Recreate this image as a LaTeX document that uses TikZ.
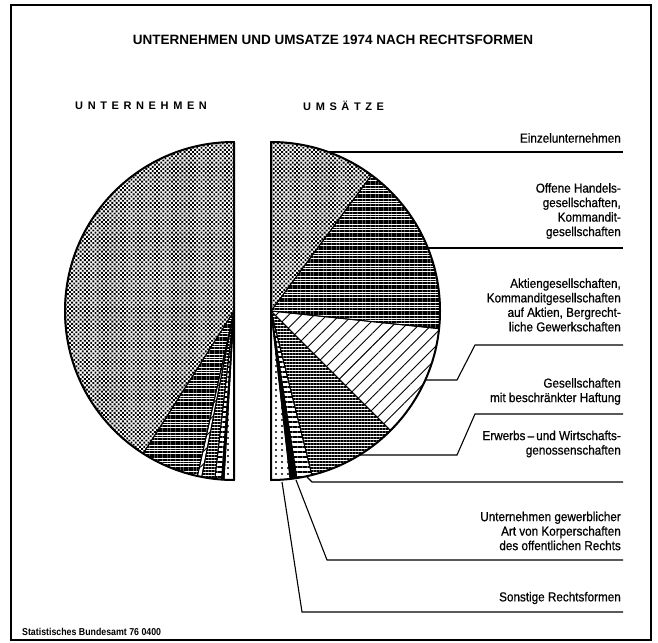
\documentclass[tikz,border=0pt]{standalone}
\usepackage{fontspec}
\setmainfont{Liberation Sans}
\newfontfamily\labfont[FakeStretch=0.9,FakeBold=0.6]{Liberation Sans}
\newfontfamily\headfont[LetterSpace=42]{Liberation Sans}
\newfontfamily\footfont[FakeStretch=0.88]{Liberation Sans}
\usetikzlibrary{patterns.meta}
\begin{document}
\begin{tikzpicture}[x=1pt,y=-1pt,
  pieline/.style={draw=black,line width=0.9pt,line join=round},
  outline/.style={draw=black,line width=2pt,line join=round},
  leader/.style={draw=black,line width=1.1pt},
  frameline/.style={draw=black,line width=1.3pt},
  lab/.style={anchor=east,align=right,font=\fontsize{13}{14.5}\labfont,inner sep=0pt},
  pEinzel/.style={pattern={Dots[distance=3pt,radius=1.35pt,angle=45]}},
  pOHG/.style={pattern={Lines[angle=0,distance=2.6pt,line width=1.8pt]}},
  pAG/.style={pattern={Lines[angle=45,distance=9pt,line width=0.9pt]}},
  pGmbH/.style={pattern={Lines[angle=0,distance=3pt,line width=1.5pt]}},
  pErw/.style={pattern={Lines[angle=0,distance=5pt,line width=2.2pt]}},
  pGew/.style={fill=black},
  pSon/.style={pattern={Dots[distance=6pt,radius=1.2pt]}},
]
\useasboundingbox (0,0) rectangle (658,642);
\fill[white] (0,0) rectangle (658,642);
\draw[frameline] (11,5) rectangle (651,640);

% titles
\node[font=\fontsize{13.5}{16}\selectfont\bfseries] (title) at (333,40) {UNTERNEHMEN UND UMSATZE 1974 NACH RECHTSFORMEN};
\node[anchor=west,inner sep=0pt,font=\fontsize{11}{13}\headfont\bfseries] (hleft) at (75,106) {UNTERNEHMEN};
\node[anchor=west,inner sep=0pt,font=\fontsize{11}{13}\headfont\bfseries] (hright) at (303,106) {UMSÄTZE};
\node[anchor=west,inner sep=0pt,font=\fontsize{10}{12}\footfont\bfseries] (foot) at (22,632) {Statistisches Bundesamt 76 0400};

% centres
\coordinate (L) at (234,311);
\coordinate (R) at (271,311);

% left half pie (Unternehmen)
\path[pEinzel,pieline] (L) -- +(-90:169) arc[start angle=-90,end angle=-237.5,radius=169] -- cycle;
\path[pOHG,pieline] (L) -- +(-237.5:169) arc[start angle=-237.5,end angle=-257.5,radius=169] -- cycle;
\path[pAG,pieline] (L) -- +(-257.5:169) arc[start angle=-257.5,end angle=-259,radius=169] -- cycle;
\path[pGmbH,pieline] (L) -- +(-259:169) arc[start angle=-259,end angle=-263.5,radius=169] -- cycle;
\path[pErw,pieline] (L) -- +(-263.5:169) arc[start angle=-263.5,end angle=-265.8,radius=169] -- cycle;
\path[pGew,pieline] (L) -- +(-265.8:169) arc[start angle=-265.8,end angle=-266.6,radius=169] -- cycle;
\path[pSon,pieline] (L) -- +(-266.6:169) arc[start angle=-266.6,end angle=-270,radius=169] -- cycle;
\draw[outline] (L) +(-90:169) arc[start angle=-90,end angle=-270,radius=169] -- cycle;

% right half pie (Umsaetze)
\path[pEinzel,pieline] (R) -- +(-90:169) arc[start angle=-90,end angle=-53.5,radius=169] -- cycle;
\path[pOHG,pieline] (R) -- +(-53.5:169) arc[start angle=-53.5,end angle=6,radius=169] -- cycle;
\path[pAG,pieline] (R) -- +(6:169) arc[start angle=6,end angle=45,radius=169] -- cycle;
\path[pGmbH,pieline] (R) -- +(45:169) arc[start angle=45,end angle=76,radius=169] -- cycle;
\path[pErw,pieline] (R) -- +(76:169) arc[start angle=76,end angle=81.2,radius=169] -- cycle;
\path[pGew,pieline] (R) -- +(81.2:169) arc[start angle=81.2,end angle=83.5,radius=169] -- cycle;
\path[pSon,pieline] (R) -- +(83.5:169) arc[start angle=83.5,end angle=90,radius=169] -- cycle;
\draw[outline] (R) +(-90:169) arc[start angle=-90,end angle=90,radius=169] -- cycle;

% labels
\node[lab] (n1) at (621,138) {Einzelunternehmen};
\node[lab] (n2) at (621,211) {Offene Handels-\\gesellschaften,\\Kommandit-\\gesellschaften};
\node[lab] (n3) at (621,305) {Aktiengesellschaften,\\Kommanditgesellschaften\\auf Aktien, Bergrecht-\\liche Gewerkschaften};
\node[lab] (n4) at (621,391.5) {Gesellschaften\\mit beschränkter Haftung};
\node[lab] (n5) at (621,444) {Erwerbs\,–\,und Wirtschafts-\\genossenschaften};
\node[lab] (n6) at (621,531) {Unternehmen gewerblicher\\Art von Korperschaften\\des offentlichen Rechts};
\node[lab] (n7) at (621,598) {Sonstige Rechtsformen};

% leader coordinates
\coordinate (e1) at (329,152);  \coordinate (k1) at (623,152);
\coordinate (e2) at (428,248);  \coordinate (k2) at (623,248);
\coordinate (e3) at (425,380);  \coordinate (b3a) at (457,380); \coordinate (b3b) at (475,345); \coordinate (k3) at (623,345);
\coordinate (e4) at (360,455);  \coordinate (b4a) at (457,455); \coordinate (b4b) at (475,414); \coordinate (k4) at (623,414);
\coordinate (e5) at (307,477);  \coordinate (b5) at (312,482);  \coordinate (k5) at (623,482);
\coordinate (e6) at (296,480);  \coordinate (b6) at (327,560);  \coordinate (k6) at (623,560);
\coordinate (e7) at (282,482);  \coordinate (b7) at (302,612);  \coordinate (k7) at (623,612);

\draw[leader] (e1) -- (k1);
\draw[leader] (e2) -- (k2);
\draw[leader] (e3) -- (b3a) -- (b3b) -- (k3);
\draw[leader] (e4) -- (b4a) -- (b4b) -- (k4);
\draw[leader] (e5) -- (b5) -- (k5);
\draw[leader] (e6) -- (b6) -- (k6);
\draw[leader] (e7) -- (b7) -- (k7);
\end{tikzpicture}
\end{document}
